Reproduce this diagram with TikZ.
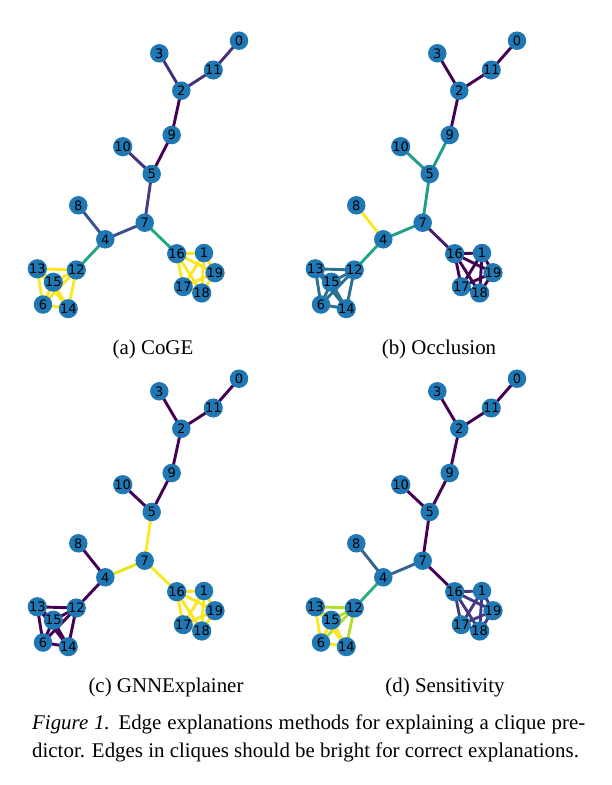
\documentclass[tikz,border=0pt]{standalone}
\usepackage{fontspec}
\setmainfont{Liberation Serif}
\newfontfamily\nodefont{DejaVu Sans}
\pgfdeclarelayer{back}
\pgfdeclarelayer{bg}
\pgfsetlayers{back,bg,main}
\definecolor{nodeblue}{HTML}{1F78B4}
\definecolor{vA}{HTML}{440154}
\definecolor{vB}{HTML}{481C6E}
\definecolor{vC}{HTML}{46307E}
\definecolor{vD}{HTML}{433E85}
\definecolor{vE}{HTML}{3C4F8A}
\definecolor{vF}{HTML}{33638D}
\definecolor{vG}{HTML}{2D708E}
\definecolor{vH}{HTML}{1F9E89}
\definecolor{vI}{HTML}{22A884}
\definecolor{vJ}{HTML}{2AB07F}
\definecolor{vK}{HTML}{B5DE2B}
\definecolor{vL}{HTML}{E7E419}
\definecolor{vM}{HTML}{FDE725}
\definecolor{vN}{HTML}{443983}
\tikzset{
  gnode/.style={circle, fill=nodeblue, inner sep=0pt, minimum size=18.5pt,
    font=\nodefont\fontsize{13}{13}\selectfont, text=black},
  gedge/.style={line width=2.9pt},
  subcap/.style={font=\fontsize{20.9}{25}\selectfont, inner sep=0pt, anchor=base},
  figcap/.style={font=\fontsize{20.9}{28}\selectfont, inner sep=0pt, anchor=base west},
}
\newcommand\placenodes[3]{%
  \foreach \n/\px/\py in {0/239/40.7, 11/213.3/70, 3/159.3/53.3, 2/181.3/90.7,
      9/171.7/135, 10/122.7/146.7, 5/151.7/174, 8/78.3/205.3, 7/144.7/222.7,
      4/105.3/239.3, 16/176.7/253.7, 1/204/253, 19/215/272.7, 17/183.3/286.7,
      18/201.7/293, 13/37.3/268.8, 12/76.3/270, 15/53.3/282.2, 6/43/304.5,
      14/68.3/308.7}
    {\node[gnode] (#1\n) at (\px+#2, \py+#3) {\n};}%
}
% edges: prefix, list u/v/colour
\newcommand\drawedges[2]{%
  \begin{pgfonlayer}{bg}
  \foreach \u/\v/\c in {#2}
    {\draw[gedge, draw=\c] (#1\u.center) -- (#1\v.center);}
  \end{pgfonlayer}%
}
\begin{document}
\begin{tikzpicture}[x=1pt, y=-1pt]
\useasboundingbox (0,0) rectangle (611,785);
\begin{pgfonlayer}{back}
\fill[white] (0,0) rectangle (611,785);
\end{pgfonlayer}
% panel (a)
\placenodes{a}{0}{0}
\drawedges{a}{0/11/vC, 11/2/vC, 3/2/vC, 2/9/vA, 9/5/vA, 10/5/vC, 5/7/vD,
  8/4/vE, 4/7/vE, 4/12/vI, 7/16/vI,
  12/13/vM, 12/15/vM, 12/6/vM, 12/14/vM, 13/15/vM, 13/6/vM, 13/14/vM, 15/6/vM, 15/14/vM, 6/14/vM,
  16/1/vM, 16/19/vM, 16/17/vM, 16/18/vM, 1/19/vM, 1/17/vM, 1/18/vM, 19/17/vM, 19/18/vM, 17/18/vM}
% panel (b)
\placenodes{b}{278}{0}
\drawedges{b}{0/11/vA, 11/2/vA, 3/2/vA, 2/9/vA, 9/5/vH, 10/5/vH, 5/7/vH,
  8/4/vM, 4/7/vH, 4/12/vI, 7/16/vB,
  12/13/vG, 12/15/vG, 12/6/vG, 12/14/vG, 13/15/vG, 13/6/vG, 13/14/vG, 15/6/vG, 15/14/vG, 6/14/vG,
  16/1/vA, 16/19/vA, 16/17/vA, 16/18/vA, 1/19/vA, 1/17/vA, 1/18/vA, 19/17/vA, 19/18/vA, 17/18/vA}
% panel (c)
\placenodes{c}{0}{338}
\drawedges{c}{0/11/vA, 11/2/vA, 3/2/vA, 2/9/vA, 9/5/vA, 10/5/vA, 5/7/vM,
  8/4/vA, 4/7/vL, 4/12/vA, 7/16/vM,
  12/13/vA, 12/15/vA, 12/6/vA, 12/14/vA, 13/15/vA, 13/6/vA, 13/14/vA, 15/6/vA, 15/14/vA, 6/14/vA,
  16/1/vM, 16/19/vM, 16/17/vM, 16/18/vM, 1/19/vM, 1/17/vM, 1/18/vM, 19/17/vM, 19/18/vM, 17/18/vM}
% panel (d)
\placenodes{d}{278}{338}
\drawedges{d}{0/11/vA, 11/2/vA, 3/2/vA, 2/9/vA, 9/5/vA, 10/5/vA, 5/7/vA,
  8/4/vF, 4/7/vF, 4/12/vJ, 7/16/vA,
  12/13/vK, 12/15/vK, 12/6/vK, 12/14/vK, 13/15/vM, 13/6/vM, 13/14/vM, 15/6/vM, 15/14/vM, 6/14/vM,
  16/1/vN, 16/19/vN, 16/17/vN, 16/18/vN, 1/19/vN, 1/17/vN, 1/18/vN, 19/17/vN, 19/18/vN, 17/18/vN}
% sub-captions
\node[subcap] (capa) at (153,354) {(a) CoGE};
\node[subcap] (capb) at (439,354) {(b) Occlusion};
\node[subcap] (capc) at (166,692) {(c) GNNExplainer};
\node[subcap] (capd) at (445,692) {(d) Sensitivity};
% figure caption
\node[figcap] (cap1) at (32,729) {\makebox[553pt][s]{\textit{Figure 1.} Edge explanations methods for explaining a clique pre-}};
\node[figcap] (cap2) at (32,757) {dictor. Edges in cliques should be bright for correct explanations.};
\end{tikzpicture}
\end{document}
